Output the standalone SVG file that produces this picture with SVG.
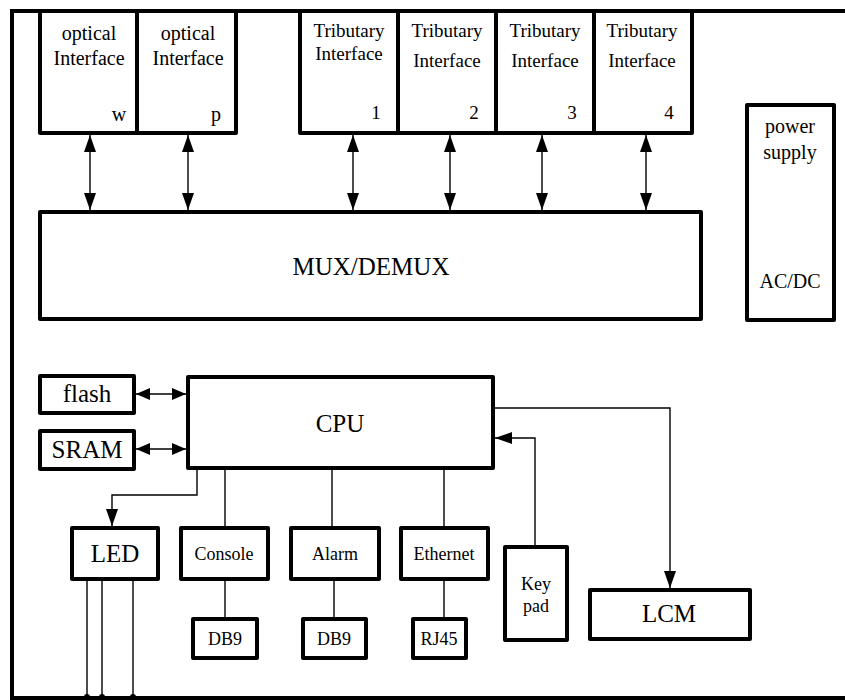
<svg xmlns="http://www.w3.org/2000/svg" width="845" height="700" viewBox="0 0 845 700">
<style>
.box{fill:#fff;stroke:#000;stroke-width:4;stroke-linejoin:round}
.frame{fill:none;stroke:#000;stroke-width:4}
.c{fill:none;stroke:#000;stroke-width:1.4}
.f20{font-size:20px}
.f19{font-size:19px}
.f18{font-size:18px}
.f25{font-size:25px}
</style>
<defs>
<marker id="ah" markerWidth="17" markerHeight="12" refX="17" refY="6" orient="auto-start-reverse" markerUnits="userSpaceOnUse"><path d="M0,0 L17,6 L0,12 z" fill="#000"/></marker>
<marker id="as" markerWidth="14" markerHeight="12" refX="14" refY="6" orient="auto-start-reverse" markerUnits="userSpaceOnUse"><path d="M0,0 L14,6 L0,12 z" fill="#000"/></marker>
</defs>
<g id="frame"><path class="frame" d="M845,11 H12 V698 H845"/></g>
<g font-family="Liberation Serif, Tinos, DejaVu Serif, serif" text-anchor="middle" fill="#000">
<g id="opt-w"><rect class="box" x="40" y="11" width="97" height="122"/><text class="f20" x="89" y="40">optical</text><text class="f20" x="89" y="65">Interface</text><text class="f20" x="119" y="121">w</text></g>
<g id="opt-p"><rect class="box" x="137" y="11" width="99" height="122"/><text class="f20" x="188" y="40">optical</text><text class="f20" x="188" y="65">Interface</text><text class="f20" x="216" y="121">p</text></g>
<g id="trib-1"><rect class="box" x="300" y="11" width="98" height="122"/><text class="f19" x="349" y="37">Tributary</text><text class="f19" x="349" y="60">Interface</text><text class="f19" x="376" y="119">1</text></g>
<g id="trib-2"><rect class="box" x="398" y="11" width="98" height="122"/><text class="f19" x="447" y="37">Tributary</text><text class="f19" x="447" y="67">Interface</text><text class="f19" x="474" y="119">2</text></g>
<g id="trib-3"><rect class="box" x="496" y="11" width="98" height="122"/><text class="f19" x="545" y="37">Tributary</text><text class="f19" x="545" y="67">Interface</text><text class="f19" x="572" y="119">3</text></g>
<g id="trib-4"><rect class="box" x="594" y="11" width="98" height="122"/><text class="f19" x="642" y="37">Tributary</text><text class="f19" x="642" y="67">Interface</text><text class="f19" x="669" y="119">4</text></g>
<g id="mux"><rect class="box" x="40" y="212" width="661" height="107"/><text class="f25" x="371" y="275">MUX/DEMUX</text></g>
<g id="power"><rect class="box" x="747" y="105" width="87" height="215"/><text class="f20" x="790" y="133">power</text><text class="f20" x="790" y="159">supply</text><text class="f20" x="790" y="288">AC/DC</text></g>
<g id="cpu"><rect class="box" x="188" y="377" width="305" height="91"/><text class="f25" x="340" y="432">CPU</text></g>
<g id="flash"><rect class="box" x="40" y="376" width="94" height="37"/><text class="f25" x="87" y="402">flash</text></g>
<g id="sram"><rect class="box" x="40" y="431" width="94" height="38"/><text class="f25" x="87" y="458">SRAM</text></g>
<g id="led"><rect class="box" x="72" y="528" width="86" height="51"/><text class="f25" x="115" y="562">LED</text></g>
<g id="console"><rect class="box" x="181" y="528" width="87" height="51"/><text class="f18" x="224" y="560">Console</text></g>
<g id="alarm"><rect class="box" x="291" y="528" width="88" height="51"/><text class="f18" x="335" y="560">Alarm</text></g>
<g id="ethernet"><rect class="box" x="401" y="528" width="87" height="51"/><text class="f18" x="444" y="560">Ethernet</text></g>
<g id="db9-1"><rect class="box" x="193" y="619" width="64" height="39"/><text class="f18" x="225" y="645">DB9</text></g>
<g id="db9-2"><rect class="box" x="303" y="619" width="63" height="39"/><text class="f18" x="334" y="645">DB9</text></g>
<g id="rj45"><rect class="box" x="413" y="619" width="53" height="39"/><text class="f18" x="439" y="645">RJ45</text></g>
<g id="keypad"><rect class="box" x="505" y="547" width="62" height="93"/><text class="f18" x="536" y="590">Key</text><text class="f18" x="536" y="612">pad</text></g>
<g id="lcm"><rect class="box" x="590" y="590" width="160" height="49"/><text class="f25" x="669" y="622">LCM</text></g>
</g>
<g id="connectors">
<line class="c" x1="90" y1="135" x2="90" y2="210" marker-start="url(#ah)" marker-end="url(#ah)"/>
<line class="c" x1="188" y1="135" x2="188" y2="210" marker-start="url(#ah)" marker-end="url(#ah)"/>
<line class="c" x1="353" y1="135" x2="353" y2="210" marker-start="url(#ah)" marker-end="url(#ah)"/>
<line class="c" x1="450" y1="135" x2="450" y2="210" marker-start="url(#ah)" marker-end="url(#ah)"/>
<line class="c" x1="542" y1="135" x2="542" y2="210" marker-start="url(#ah)" marker-end="url(#ah)"/>
<line class="c" x1="646" y1="135" x2="646" y2="210" marker-start="url(#ah)" marker-end="url(#ah)"/>
<line class="c" x1="136" y1="394" x2="186" y2="394" marker-start="url(#as)" marker-end="url(#as)"/>
<line class="c" x1="136" y1="449" x2="186" y2="449" marker-start="url(#as)" marker-end="url(#as)"/>
<path class="c" d="M197,470 V495 H112 V526" marker-end="url(#ah)"/>
<line class="c" x1="225" y1="470" x2="225" y2="526"/>
<line class="c" x1="225" y1="581" x2="225" y2="617"/>
<line class="c" x1="332" y1="470" x2="332" y2="526"/>
<line class="c" x1="334" y1="581" x2="334" y2="617"/>
<line class="c" x1="444" y1="470" x2="444" y2="526"/>
<line class="c" x1="444" y1="581" x2="444" y2="617"/>
<path class="c" d="M535,545 V438 H495" marker-end="url(#ah)"/>
<path class="c" d="M495,408 H670 V588" marker-end="url(#ah)"/>
<line class="c" x1="87" y1="581" x2="87" y2="697"/>
<line class="c" x1="102" y1="581" x2="102" y2="697"/>
<line class="c" x1="133" y1="581" x2="133" y2="697"/>
<circle cx="87" cy="697" r="3"/>
<circle cx="102" cy="697" r="3"/>
<circle cx="133" cy="697" r="3"/>
</g>
</svg>
